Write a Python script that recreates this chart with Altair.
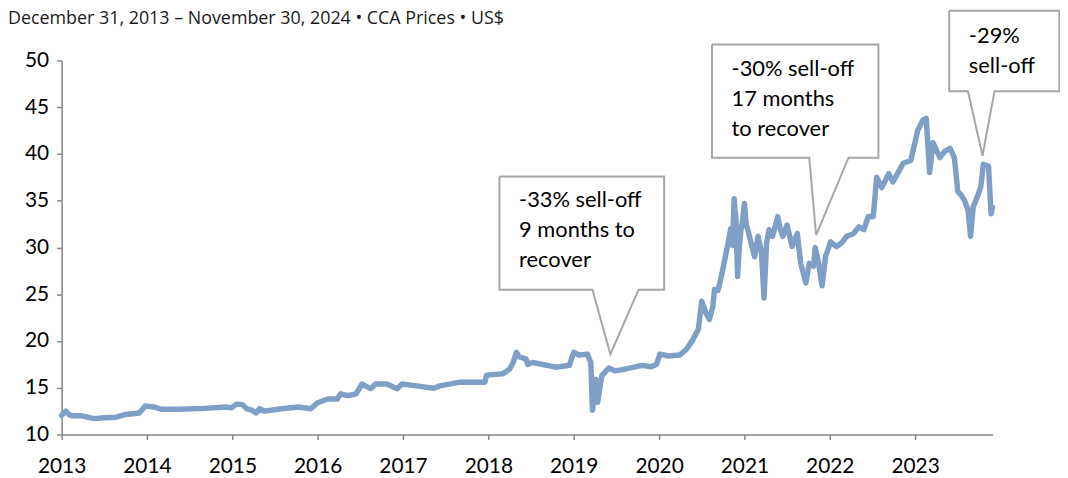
import altair as alt
import pandas as pd

# ---- data (decimal year, price US$) ----
years = [
    2013.00, 2013.05, 2013.09, 2013.13, 2013.24, 2013.38, 2013.50, 2013.64, 2013.75, 2013.91,
    2013.98, 2014.08, 2014.17, 2014.37, 2014.68, 2014.92, 2014.99, 2015.05, 2015.12, 2015.17,
    2015.23, 2015.28, 2015.32, 2015.38, 2015.53, 2015.77, 2015.92, 2016.00, 2016.12, 2016.23,
    2016.27, 2016.35, 2016.45, 2016.52, 2016.62, 2016.68, 2016.81, 2016.93, 2016.99, 2017.20,
    2017.36, 2017.43, 2017.67, 2017.96, 2017.98, 2018.17, 2018.25, 2018.29, 2018.33, 2018.36,
    2018.44, 2018.46, 2018.52, 2018.79, 2018.95, 2019.00, 2019.06, 2019.16, 2019.20, 2019.22,
    2019.26, 2019.28, 2019.33, 2019.41, 2019.49, 2019.60, 2019.80, 2019.91, 2019.97, 2020.01,
    2020.11, 2020.24, 2020.32, 2020.40, 2020.46, 2020.50, 2020.55, 2020.59, 2020.63, 2020.65,
    2020.69, 2020.73, 2020.77, 2020.81, 2020.84, 2020.86, 2020.88, 2020.89, 2020.90, 2020.92,
    2020.94, 2020.96, 2020.98, 2021.00, 2021.02, 2021.04, 2021.08, 2021.12, 2021.16, 2021.20,
    2021.23, 2021.26, 2021.29, 2021.33, 2021.39, 2021.42, 2021.45, 2021.50, 2021.56, 2021.62,
    2021.66, 2021.72, 2021.76, 2021.81, 2021.83, 2021.87, 2021.91, 2021.95, 2022.01, 2022.08,
    2022.14, 2022.20, 2022.28, 2022.34, 2022.40, 2022.45, 2022.51, 2022.55, 2022.61, 2022.69,
    2022.74, 2022.80, 2022.86, 2022.95, 2023.03, 2023.09, 2023.13, 2023.17, 2023.21, 2023.29,
    2023.35, 2023.41, 2023.46, 2023.50, 2023.54, 2023.58, 2023.62, 2023.65, 2023.68, 2023.74,
    2023.77, 2023.80, 2023.86, 2023.89, 2023.907,
]
prices = [
    12.05, 12.5, 12.1, 12.0, 12.0, 11.7, 11.8, 11.85, 12.15, 12.3,
    13.05, 12.95, 12.7, 12.7, 12.8, 12.95, 12.85, 13.25, 13.2, 12.75,
    12.6, 12.3, 12.75, 12.5, 12.7, 12.95, 12.75, 13.4, 13.8, 13.8,
    14.35, 14.15, 14.35, 15.4, 14.9, 15.4, 15.4, 14.9, 15.4, 15.15,
    14.95, 15.2, 15.6, 15.6, 16.35, 16.5, 17.0, 17.7, 18.8, 18.3,
    18.1, 17.5, 17.7, 17.2, 17.4, 18.8, 18.5, 18.6, 17.7, 12.6,
    15.9, 13.45, 16.3, 17.1, 16.8, 17.0, 17.4, 17.25, 17.5, 18.6,
    18.4, 18.5, 19.1, 20.2, 21.25, 24.25, 23.0, 22.3, 23.7, 25.5,
    25.4, 26.9, 28.7, 30.5, 32.0, 30.2, 35.2, 34.0, 33.3, 26.9,
    30.0, 31.9, 33.0, 34.7, 32.5, 31.9, 30.4, 29.0, 31.2, 29.5,
    24.6, 30.5, 31.9, 31.2, 33.3, 32.0, 31.2, 32.4, 30.1, 31.5,
    28.3, 26.2, 28.3, 28.0, 30.0, 28.3, 25.9, 29.0, 30.6, 30.1,
    30.5, 31.2, 31.5, 32.2, 31.9, 33.3, 33.3, 37.5, 36.4, 37.9,
    37.0, 38.0, 39.0, 39.3, 42.5, 43.6, 43.8, 38.0, 41.2, 39.6,
    40.3, 40.6, 39.6, 36.0, 35.6, 35.0, 34.0, 31.2, 34.3, 35.7,
    36.5, 38.9, 38.7, 33.6, 34.3,
]

x_tick_years = list(range(2013, 2024))
y_tick_values = [10, 15, 20, 25, 30, 35, 40, 45, 50]

# ---- callouts (in data units) ----
callout_ids = ["c1", "c2", "c3"]
box_left = [2018.13, 2020.62, 2023.40]
box_right = [2020.06, 2022.57, 2024.69]
box_top = [37.59, 51.70, 55.30]
box_bottom = [25.49, 39.60, 46.71]
pointer_left = [2019.22, 2021.76, 2023.62]
pointer_right = [2019.76, 2022.22, 2023.93]
tip_x = [2019.43, 2021.84, 2023.79]
tip_y = [18.59, 31.33, 39.81]

callout_lines = [
    ["-33% sell-off", "9 months to", "recover"],
    ["-30% sell-off", "17 months", "to recover"],
    ["-29%", "sell-off"],
]
text_x = [2018.36, 2020.85, 2023.63]
text_y = [
    [34.30, 31.11, 27.93],
    [48.30, 45.12, 41.94],
    [51.91, 48.62],
]

subtitle = "December 31, 2013 \u2013 November 30, 2024 \u2022 CCA Prices \u2022 US$"

# ---- build tables ----
df = pd.DataFrame({"year": years, "price": prices})

rows = []
for i, cid in enumerate(callout_ids):
    pts = [
        (box_left[i], box_top[i]),
        (box_right[i], box_top[i]),
        (box_right[i], box_bottom[i]),
        (pointer_right[i], box_bottom[i]),
        (tip_x[i], tip_y[i]),
        (pointer_left[i], box_bottom[i]),
        (box_left[i], box_bottom[i]),
        (box_left[i], box_top[i]),
    ]
    for k, (px, py) in enumerate(pts):
        rows.append({"id": cid, "k": k, "year": px, "price": py})
box_df = pd.DataFrame(rows)

trows = []
for i, lines in enumerate(callout_lines):
    for j, t in enumerate(lines):
        trows.append({"year": text_x[i], "price": text_y[i][j], "t": t})
text_df = pd.DataFrame(trows)

FONT = "Lato"
AXIS_GRAY = "#868686"
LINE_BLUE = "#7f9fc6"

xscale = alt.Scale(domain=[2013, 2023.907], nice=False, zero=False)
yscale = alt.Scale(domain=[10, 50], nice=False, zero=False)

x_axis = alt.Axis(
    values=x_tick_years, format="d", title=None, grid=False,
    labelFont=FONT, labelFontSize=21, labelColor="#000000",
    domainColor=AXIS_GRAY, domainWidth=1.5, tickColor=AXIS_GRAY,
    tickWidth=1.5, tickSize=5, labelPadding=16, labelFlush=False,
)
y_axis = alt.Axis(
    values=y_tick_values, title=None, grid=False,
    labelFont=FONT, labelFontSize=21, labelColor="#000000",
    domainColor=AXIS_GRAY, domainWidth=1.5, tickColor=AXIS_GRAY,
    tickWidth=1.5, tickSize=5, labelPadding=8,
)

X = alt.X("year:Q", scale=xscale, axis=x_axis)
Y = alt.Y("price:Q", scale=yscale, axis=y_axis)

line = alt.Chart(df).mark_line(
    color=LINE_BLUE, strokeWidth=5.5, strokeJoin="round", strokeCap="round"
).encode(x=X, y=Y, order="year:Q")

boxes = alt.Chart(box_df).mark_line(
    color="#a6a6a6", strokeWidth=2, strokeJoin="miter"
).encode(x=X, y=Y, detail="id:N", order="k:Q")

texts = alt.Chart(text_df).mark_text(
    align="left", baseline="alphabetic", font=FONT, fontSize=22, color="#000000"
).encode(x=X, y=Y, text="t:N")

sub = alt.Chart(pd.DataFrame({"t": [subtitle]})).mark_text(
    align="left", baseline="top", font="Open Sans", fontSize=18, color="#1a1a1a"
).encode(x=alt.value(-54), y=alt.value(-51), text="t:N")

chart = alt.layer(line, boxes, texts, sub).properties(
    width=938,
    height=377,
    autosize=alt.AutoSizeParams(type="none"),
    padding={"left": 54, "top": 51, "right": 68, "bottom": 42},
).configure_view(stroke=None)

chart.save("out.html", embed_options={"renderer": "svg", "actions": False})
